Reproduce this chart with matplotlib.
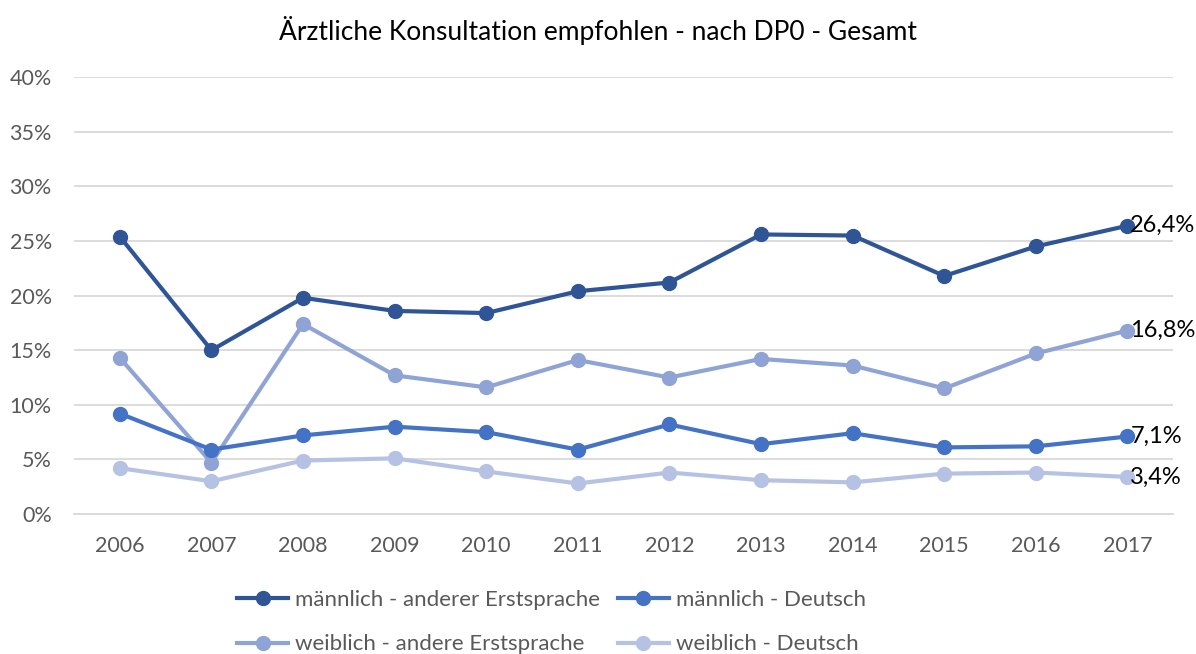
import matplotlib
matplotlib.use("Agg")
import matplotlib.pyplot as plt
from matplotlib.ticker import FuncFormatter, MultipleLocator

plt.rcParams['font.family'] = ['Lato', 'DejaVu Sans']

years = [2006, 2007, 2008, 2009, 2010, 2011, 2012, 2013, 2014, 2015, 2016, 2017]
m_andere = [25.4, 15.0, 19.8, 18.6, 18.4, 20.4, 21.2, 25.6, 25.5, 21.8, 24.5, 26.4]
m_deutsch = [9.2, 5.9, 7.2, 8.0, 7.5, 5.9, 8.2, 6.4, 7.4, 6.1, 6.2, 7.1]
w_andere = [14.3, 4.7, 17.4, 12.7, 11.6, 14.1, 12.5, 14.2, 13.6, 11.5, 14.7, 16.8]
w_deutsch = [4.2, 3.0, 4.9, 5.1, 3.9, 2.8, 3.8, 3.1, 2.9, 3.7, 3.8, 3.4]

labels = ["männlich - anderer Erstsprache", "männlich - Deutsch",
          "weiblich - andere Erstsprache", "weiblich - Deutsch"]
series = [m_andere, m_deutsch, w_andere, w_deutsch]
colors = ["#2F5597", "#4472C4", "#8FA4D5", "#B6C2E3"]

fig = plt.figure(figsize=(11.96, 6.54), dpi=100)
ax = fig.add_axes([0.0619, 0.214, 0.9191, 0.668])

x = list(range(len(years)))
handles = {}
for i in [3, 2, 1, 0]:
    h, = ax.plot(x, series[i], color=colors[i], lw=3, marker='o', ms=10,
                 label=labels[i], zorder=3)
    handles[i] = h

for i in range(4):
    ax.annotate(f"{series[i][-1]:.1f}%".replace('.', ','), (x[-1], series[i][-1]),
                xytext=(2, 0), textcoords='offset points', va='center', ha='left',
                fontsize=17, color='#000000', zorder=10)

ax.set_xlim(-0.5, len(years) - 0.5)
ax.set_ylim(0, 40)
ax.yaxis.set_major_locator(MultipleLocator(5))
ax.yaxis.set_major_formatter(FuncFormatter(lambda v, p: f"{int(v)}%"))
ax.set_xticks(x)
ax.set_xticklabels([str(y) for y in years])
ax.grid(axis='y', color='#D9D9D9', lw=1.3)
ax.set_axisbelow(True)
for s in ['top', 'right', 'left']:
    ax.spines[s].set_visible(False)
ax.spines['bottom'].set_color('#D9D9D9')
ax.spines['bottom'].set_linewidth(1.3)
ax.tick_params(axis='both', length=0, labelsize=15.5, colors='#595959')
ax.tick_params(axis='x', pad=16)
ax.tick_params(axis='y', pad=16)

fig.suptitle("Ärztliche Konsultation empfohlen - nach DP0 - Gesamt", x=0.5, y=0.975,
             fontsize=19, color='#000000', va='top')

leg = fig.legend([handles[0], handles[2], handles[1], handles[3]],
                 [labels[0], labels[2], labels[1], labels[3]], ncol=2,
                 loc='center', bbox_to_anchor=(0.461, 0.049), frameon=False,
                 fontsize=16, labelcolor='#595959', handlelength=2.3,
                 handletextpad=0.3, columnspacing=0.8, labelspacing=1.12)

fig.savefig("out.png", dpi=100)
